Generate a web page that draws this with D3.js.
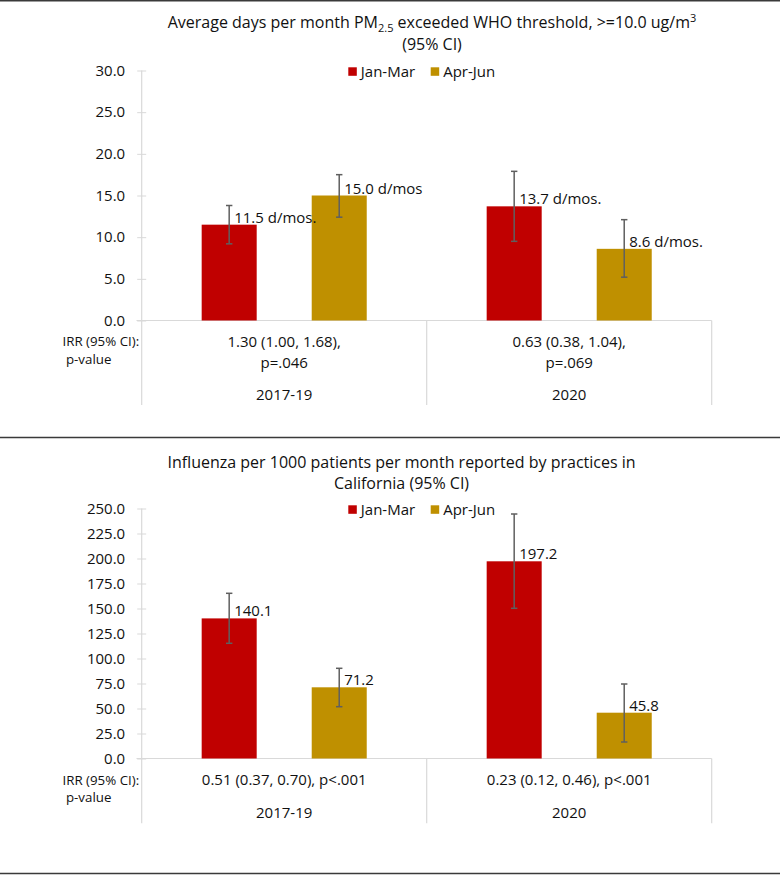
<!DOCTYPE html>
<html>
<head>
<meta charset="utf-8">
<script src="https://cdn.jsdelivr.net/npm/d3@7"></script>
<style>
  html, body { margin: 0; padding: 0; background: #fff; }
  svg { display: block; }
  text { font-family: "Open Sans", "Noto Sans", sans-serif; fill: #111; }
</style>
</head>
<body>
<svg id="chart" width="780" height="875"></svg>
<script>
// ---------- DATA ----------
const categories = ["2017-19", "2020"];
const seriesNames = ["Jan-Mar", "Apr-Jun"];
const seriesColors = ["#C00000", "#BF9000"];

// Panel 1: PM2.5 days per month
const pmJanMar = [11.5, 13.7];
const pmJanMarLow = [9.2, 9.5];
const pmJanMarHigh = [13.8, 17.9];
const pmAprJun = [15.0, 8.6];
const pmAprJunLow = [12.4, 5.2];
const pmAprJunHigh = [17.5, 12.1];
const pmJanMarLabels = ["11.5 d/mos.", "13.7 d/mos."];
const pmAprJunLabels = ["15.0 d/mos", "8.6 d/mos."];
const pmTicks = [0, 5, 10, 15, 20, 25, 30];
const pmIrr = [["1.30 (1.00, 1.68),", "p=.046"], ["0.63 (0.38, 1.04),", "p=.069"]];

// Panel 2: Influenza per 1000 patients
const fluJanMar = [140.1, 197.2];
const fluJanMarLow = [115.2, 150.2];
const fluJanMarHigh = [165.2, 244.5];
const fluAprJun = [71.2, 45.8];
const fluAprJunLow = [51.8, 16.5];
const fluAprJunHigh = [90.2, 74.5];
const fluJanMarLabels = ["140.1", "197.2"];
const fluAprJunLabels = ["71.2", "45.8"];
const fluTicks = [0, 25, 50, 75, 100, 125, 150, 175, 200, 225, 250];
const fluIrr = [["0.51 (0.37, 0.70), p<.001"], ["0.23 (0.12, 0.46), p<.001"]];

const irrRowLabel = ["IRR (95% CI):", " p-value"];

// ---------- DRAW ----------
const svg = d3.select("#chart");
const axisColor = "#D9D9D9";
const errColor = "#5f5f5f";

// panel separator lines
[0.75, 437.5, 873.5].forEach(yy => {
  svg.append("line").attr("x1", 0).attr("x2", 780).attr("y1", yy).attr("y2", yy)
    .attr("stroke", "#3a3a3a").attr("stroke-width", 1.5);
});

function drawPanel(cfg) {
  const g = svg.append("g");
  const y = d3.scaleLinear().domain([0, d3.max(cfg.ticks)]).range([cfg.yZero, cfg.yTop]);
  const x0 = d3.scaleBand().domain(categories).range([141.7, 711.7]).padding(0);
  const x1 = d3.scaleBand().domain(seriesNames).range([0, x0.bandwidth()])
    .paddingInner(0.5).paddingOuter(0.545);

  // title
  const t = g.append("text").attr("text-anchor", "middle").style("font-size", "16px");
  cfg.title(t);

  // legend
  const leg = g.append("g");
  const legX = [348.3, 430.7];
  seriesNames.forEach((s, i) => {
    leg.append("rect").attr("x", legX[i]).attr("y", cfg.legendY - 4).attr("width", 8.5).attr("height", 8.5)
      .attr("fill", seriesColors[i]);
    leg.append("text").attr("x", legX[i] + 12.5).attr("y", cfg.legendY).attr("dy", "0.36em")
      .style("font-size", "15px").text(s);
  });

  // y axis
  const yAxis = d3.axisLeft(y).tickValues(cfg.ticks).tickFormat(d3.format(".1f"))
    .tickSize(4.5).tickSizeOuter(0).tickPadding(12);
  const ya = g.append("g").attr("transform", `translate(141.7,0)`).call(yAxis);
  ya.select(".domain").remove();
  ya.selectAll(".tick line").attr("stroke", axisColor).attr("x1", 4.5).attr("x2", -4.5);
  ya.selectAll(".tick text").style("font-size", "15px").style("font-family", '"Open Sans", sans-serif')
    .attr("fill", "#111");

  // axis & table lines
  g.append("line").attr("x1", 141.7).attr("x2", 141.7).attr("y1", cfg.yTop).attr("y2", cfg.tableBottom)
    .attr("stroke", axisColor).attr("stroke-width", 1.2);
  g.append("line").attr("x1", 136.5).attr("x2", 711.7).attr("y1", cfg.yZero).attr("y2", cfg.yZero)
    .attr("stroke", axisColor).attr("stroke-width", 1.2);
  categories.forEach(c => {
    const xr = x0(c) + x0.bandwidth();
    g.append("line").attr("x1", xr).attr("x2", xr).attr("y1", cfg.yZero).attr("y2", cfg.tableBottom)
      .attr("stroke", axisColor).attr("stroke-width", 1.2);
  });

  // bars
  const rows = [];
  categories.forEach((c, ci) => {
    seriesNames.forEach((s, si) => {
      rows.push({
        c, s, si,
        v: cfg.values[si][ci],
        lo: cfg.lows[si][ci],
        hi: cfg.highs[si][ci],
        label: cfg.labels[si][ci]
      });
    });
  });

  g.selectAll("rect.bar").data(rows).enter().append("rect").attr("class", "bar")
    .attr("x", d => x0(d.c) + x1(d.s))
    .attr("width", x1.bandwidth())
    .attr("y", d => y(d.v))
    .attr("height", d => y(0) - y(d.v))
    .attr("fill", d => seriesColors[d.si]);

  // error bars
  const cx = d => x0(d.c) + x1(d.s) + x1.bandwidth() / 2;
  const eb = g.selectAll("g.err").data(rows).enter().append("g").attr("class", "err")
    .attr("stroke", errColor).attr("stroke-width", 1.5);
  eb.append("line").attr("x1", cx).attr("x2", cx).attr("y1", d => y(d.hi)).attr("y2", d => y(d.lo));
  eb.append("line").attr("x1", d => cx(d) - 3.2).attr("x2", d => cx(d) + 3.2).attr("y1", d => y(d.hi)).attr("y2", d => y(d.hi));
  eb.append("line").attr("x1", d => cx(d) - 3.2).attr("x2", d => cx(d) + 3.2).attr("y1", d => y(d.lo)).attr("y2", d => y(d.lo));

  // value labels
  g.selectAll("text.val").data(rows).enter().append("text").attr("class", "val")
    .attr("x", d => cx(d) + 5)
    .attr("y", d => y(d.v) - 2)
    .style("font-size", "15px")
    .text(d => d.label);

  // table row labels
  g.append("text").attr("x", 62.5).attr("y", cfg.rowY[0]).attr("dy", "0.36em").style("font-size", "13.3px").text(irrRowLabel[0]);
  g.append("text").attr("x", 62.5).attr("y", cfg.rowY[1]).attr("dy", "0.36em").style("font-size", "13.3px")
    .attr("xml:space", "preserve").style("white-space", "pre").text(irrRowLabel[1]);

  // table values & categories
  categories.forEach((c, ci) => {
    const mx = x0(c) + x0.bandwidth() / 2;
    cfg.irr[ci].forEach((line, li) => {
      g.append("text").attr("x", mx).attr("y", cfg.irrY[li]).attr("dy", "0.36em")
        .attr("text-anchor", "middle").style("font-size", "15px").text(line);
    });
    g.append("text").attr("x", mx).attr("y", cfg.catY).attr("dy", "0.36em")
      .attr("text-anchor", "middle").style("font-size", "15px").text(c);
  });
}

drawPanel({
  ticks: pmTicks,
  yZero: 320.5, yTop: 70.5,
  tableBottom: 405,
  legendY: 71.3,
  values: [pmJanMar, pmAprJun],
  lows: [pmJanMarLow, pmAprJunLow],
  highs: [pmJanMarHigh, pmAprJunHigh],
  labels: [pmJanMarLabels, pmAprJunLabels],
  irr: pmIrr,
  rowY: [341.7, 359.3],
  irrY: [341.7, 362.7],
  catY: 395,
  title: t => {
    const l1 = t.append("tspan").attr("x", 432).attr("y", 28.3);
    l1.append("tspan").text("Average days per month PM");
    l1.append("tspan").attr("dy", 4).style("font-size", "11px").text("2.5");
    l1.append("tspan").attr("dy", -4).text(" exceeded WHO threshold, >=10.0 ug/m");
    l1.append("tspan").attr("dy", -6).style("font-size", "11px").text("3");
    t.append("tspan").attr("x", 432).attr("y", 50).text("(95% CI)");
  }
});

drawPanel({
  ticks: fluTicks,
  yZero: 758.5, yTop: 508.5,
  tableBottom: 823.3,
  legendY: 509.3,
  values: [fluJanMar, fluAprJun],
  lows: [fluJanMarLow, fluAprJunLow],
  highs: [fluJanMarHigh, fluAprJunHigh],
  labels: [fluJanMarLabels, fluAprJunLabels],
  irr: fluIrr,
  rowY: [780, 797.7],
  irrY: [780],
  catY: 812.7,
  title: t => {
    t.append("tspan").attr("x", 401.5).attr("y", 467.7).text("Influenza per 1000 patients per month reported by practices in");
    t.append("tspan").attr("x", 401.5).attr("y", 489).text("California (95% CI)");
  }
});
</script>
</body>
</html>
